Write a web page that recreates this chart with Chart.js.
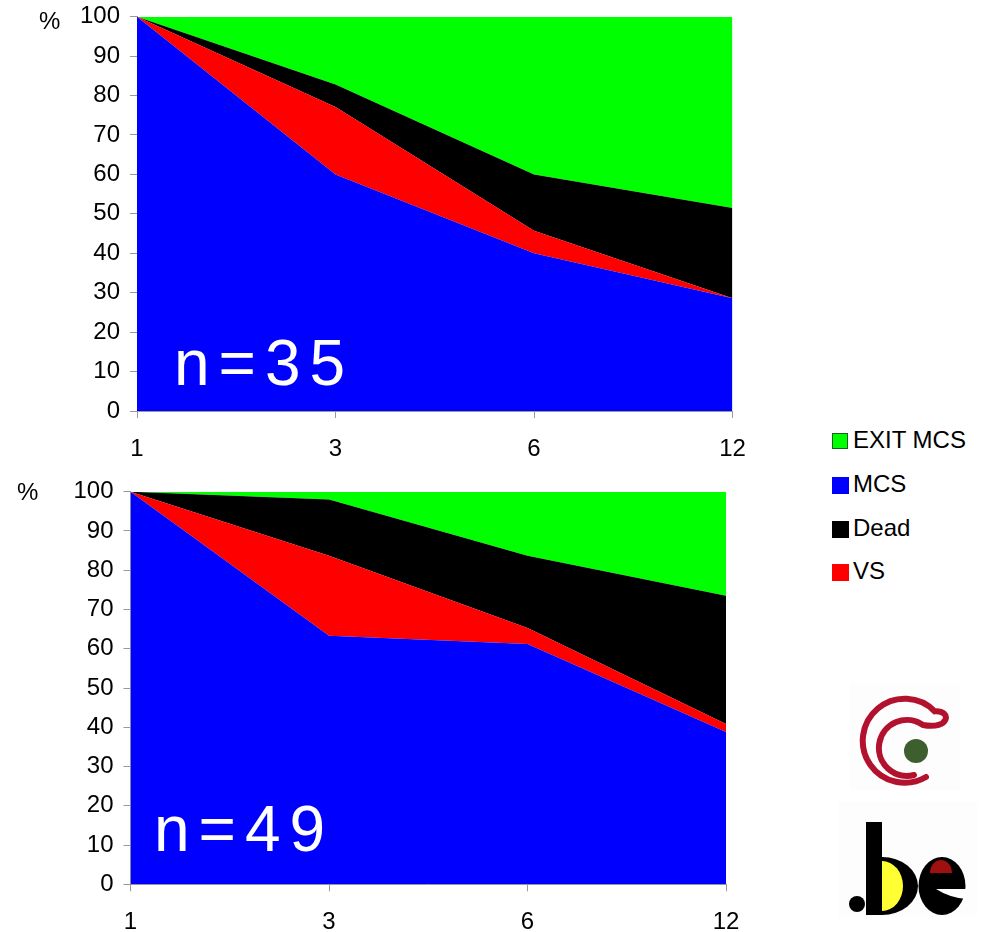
<!DOCTYPE html>
<html>
<head>
<meta charset="utf-8">
<script src="https://cdn.jsdelivr.net/npm/chart.js@4.4.1/dist/chart.umd.min.js"></script>
<style>
  html, body { margin: 0; padding: 0; background: #fff; }
  body { width: 981px; height: 932px; position: relative; overflow: hidden;
         font-family: "Liberation Sans", Arial, sans-serif; color: #000; }
  .panel { position: absolute; left: 0; }
  .pct { position: absolute; font-size: 24px; line-height: 1; }
  .nlabel { position: absolute; color: #fff; font-size: 64px; line-height: 1; letter-spacing: 9px; }
  .sw { position: absolute; left: 832px; width: 17px; height: 17px; box-sizing: border-box; }
  .lt { position: absolute; left: 853px; font-size: 24px; line-height: 1; white-space: nowrap; }
  svg.logos { position: absolute; left: 0; top: 0; }
</style>
</head>
<body>

<div class="panel" style="top:0;width:770px;height:470px"><canvas id="c1" width="770" height="470"></canvas></div>
<div class="panel" style="top:470px;width:770px;height:462px"><canvas id="c2" width="770" height="462"></canvas></div>

<div class="pct" style="left:39px;top:9px">%</div>
<div class="pct" style="left:17px;top:480px">%</div>
<div class="nlabel" id="n1" style="left:174px;top:331px"></div>
<div class="nlabel" id="n2" style="left:154px;top:797px"></div>

<div id="legend"></div>

<svg class="logos" width="981" height="932" viewBox="0 0 981 932">
  <!-- swirl emblem -->
  <rect x="850" y="683" width="110" height="107" fill="#fdfdfd"/>
  <path d="M 926 777 A 42 42 0 1 1 934.7 711.3 C 952 710, 950 730, 923 725 A 28 28 0 1 0 914 775"
        fill="none" stroke="#b3122e" stroke-width="6" stroke-linecap="round"/>
  <circle cx="916" cy="751" r="12" fill="#3d5f2e"/>
  <!-- .be mark -->
  <rect x="838" y="802" width="139" height="115" fill="#fdfdfd"/>
  <circle cx="857" cy="904" r="8" fill="#000"/>
  <rect x="866" y="822" width="16" height="93" fill="#000"/>
  <path d="M 882 857 A 36 29 0 0 1 882 915 Z" fill="#000"/>
  <path d="M 882 861 A 21 25 0 0 1 882 911 Z" fill="#ffff33"/>
  <ellipse cx="942" cy="886" rx="23.5" ry="29" fill="#000"/>
  <path d="M 930 873 A 11 13 0 0 1 952 873 Z" fill="#a01010"/>
  <path d="M 936 889 L 967 889 L 967 899 Q 950 898 936 889 Z" fill="#fff"/>
</svg>

<script>
// Months since onset, shared category axis
const months = ['1', '3', '6', '12'];
const yTicks = [0, 10, 20, 30, 40, 50, 60, 70, 80, 90, 100];

// Stacking order from bottom to top
const seriesNames  = ['MCS', 'VS', 'Dead', 'EXIT MCS'];
const seriesColors = ['#0000ff', '#ff0000', '#000000', '#00ff00'];
const legendOrder  = ['EXIT MCS', 'MCS', 'Dead', 'VS'];

// Cohort n=35 (% of patients)
const cohortA = 'n=35';
const mcsA  = [100, 60.0, 40.0, 28.6];
const vsA   = [0,   17.1, 5.7,  0];
const deadA = [0,   5.7,  14.3, 22.9];
const exitA = [0,   17.2, 40.0, 48.5];

// Cohort n=49 (% of patients)
const cohortB = 'n=49';
const mcsB  = [100, 63.3, 61.2, 38.8];
const vsB   = [0,   20.4, 4.1,  2.0];
const deadB = [0,   14.3, 18.4, 32.7];
const exitB = [0,   2.0,  16.3, 26.5];

const FONT = '"Liberation Sans", Arial, sans-serif';
const AXIS_GREY = '#999999';

function buildDatasets(values) {
  return values.map((v, i) => ({
    label: seriesNames[i],
    data: v,
    backgroundColor: seriesColors[i],
    borderColor: seriesColors[i],
    borderWidth: 0,
    pointRadius: 0,
    tension: 0,
    fill: i === 0 ? 'origin' : '-1'
  }));
}

function makeChart(id, values, geom) {
  return new Chart(document.getElementById(id), {
    type: 'line',
    data: { labels: months, datasets: buildDatasets(values) },
    options: {
      responsive: false,
      animation: false,
      events: [],
      layout: { padding: { top: geom.top, right: geom.right, bottom: 0, left: 0 } },
      plugins: { legend: { display: false }, tooltip: { enabled: false } },
      scales: {
        x: {
          type: 'category',
          offset: false,
          grid: { drawOnChartArea: false, drawTicks: true, tickLength: 7, color: AXIS_GREY },
          border: { display: true, color: AXIS_GREY },
          ticks: { color: '#000', font: { family: FONT, size: 24 }, padding: 17, maxRotation: 0, autoSkip: false },
          afterFit: s => { s.height = geom.xh; s.paddingLeft = 0; s.paddingRight = 0; }
        },
        y: {
          stacked: true,
          min: 0, max: 100,
          afterBuildTicks: s => { s.ticks = yTicks.map(v => ({ value: v })); },
          grid: { drawOnChartArea: false, drawTicks: true, tickLength: 7, color: AXIS_GREY },
          border: { display: true, color: AXIS_GREY },
          ticks: { color: '#000', font: { family: FONT, size: 24 }, padding: 10 },
          afterFit: s => { s.width = geom.yw; s.paddingTop = 0; s.paddingBottom = 0; }
        }
      }
    }
  });
}

makeChart('c1', [mcsA, vsA, deadA, exitA], { top: 16.7, right: 37.5, xh: 59, yw: 137 });
makeChart('c2', [mcsB, vsB, deadB, exitB], { top: 21.7, right: 44, xh: 47.7, yw: 130.5 });

document.getElementById('n1').textContent = cohortA;
document.getElementById('n2').textContent = cohortB;

// Legend, built from the series definitions
const legendBaselines = [448, 492, 536, 579];
const legend = document.getElementById('legend');
legendOrder.forEach((name, k) => {
  const i = seriesNames.indexOf(name);
  const base = legendBaselines[k];
  const sw = document.createElement('div');
  sw.className = 'sw';
  sw.style.background = seriesColors[i];
  if (k === 0) {
    sw.style.border = '1px solid #1f5f1f';
    sw.style.width = '16px'; sw.style.height = '16px';
  }
  sw.style.top = (base - 15) + 'px';
  const t = document.createElement('div');
  t.className = 'lt';
  t.textContent = name;
  t.style.top = (base - 20.3) + 'px';
  legend.appendChild(sw);
  legend.appendChild(t);
});
</script>
</body>
</html>
